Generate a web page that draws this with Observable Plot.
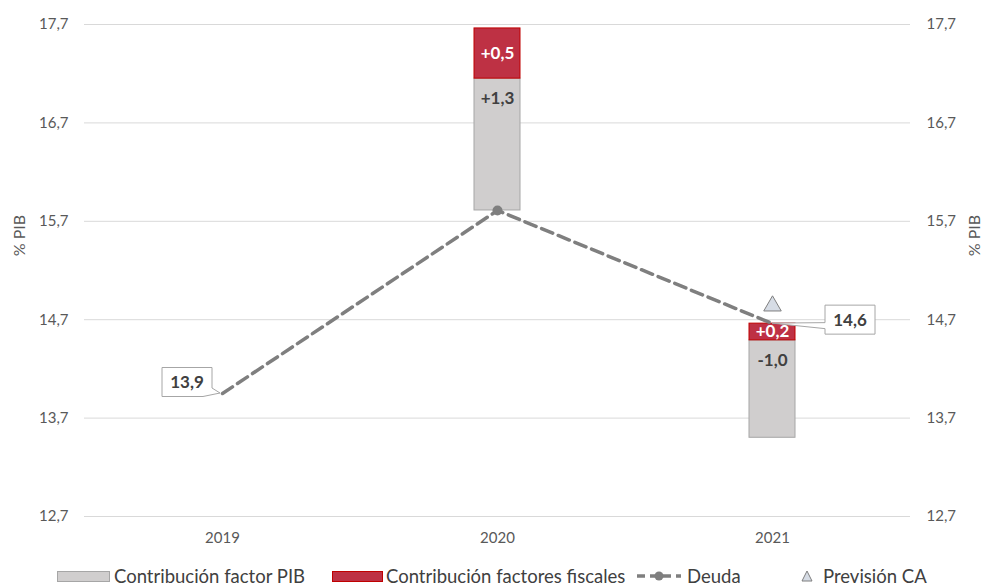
<!DOCTYPE html>
<html>
<head>
<meta charset="utf-8">
<script src="https://cdn.jsdelivr.net/npm/d3@7"></script>
<script src="https://cdn.jsdelivr.net/npm/@observablehq/plot@0.6"></script>
<style>
  html, body { margin: 0; padding: 0; background: #fff; }
  #chart { width: 984px; }
  .legend { position: relative; height: 31px; font-family: Lato, "Open Sans", sans-serif; font-size: 18.5px; color: #404040; }
  .legend .item { position: absolute; top: 9px; display: flex; align-items: center; height: 22px; white-space: nowrap; }
  .legend svg { display: block; }
</style>
</head>
<body>
<div id="chart"></div>
<script>
// ---- data ----
const years = ["2019", "2020", "2021"];
const debt = [13.95, 15.81, 14.66];           // Deuda (% PIB)
const debtLabels = ["13,9", "", "14,6"];
const barBase = [null, 15.81, 13.50];         // bottom of stacked contribution bar
const pibContrib = [null, 1.34, 0.99];        // Contribución factor PIB (bar height)
const fiscalContrib = [null, 0.51, 0.17];     // Contribución factores fiscales (bar height)
const pibLabels = ["", "+1,3", "-1,0"];
const fiscalLabels = ["", "+0,5", "+0,2"];
const markerYears = ["2020"];
const forecastYears = ["2021"];
const forecastValues = [14.84];               // Previsión CA
const yTicks = [12.7, 13.7, 14.7, 15.7, 16.7, 17.7];
const axisTitle = "% PIB";
const legendLabels = ["Contribución factor PIB", "Contribución factores fiscales", "Deuda", "Previsión CA"];

// ---- tables built from the arrays ----
const rows = years.map((year, i) => ({
  year, debt: debt[i], debtLabel: debtLabels[i],
  base: barBase[i], pib: pibContrib[i], fiscal: fiscalContrib[i],
  pibLabel: pibLabels[i], fiscalLabel: fiscalLabels[i]
}));
const barRows = rows.filter(d => d.base != null);
const forecast = forecastYears.map((year, i) => ({year, value: forecastValues[i]}));

const GRAY = "#d0cece", GRAY_STROKE = "#a6a6a6";
const RED = "#be3144", RED_STROKE = "#c00000";
const LINE = "#7f7f7f";
const fmt = d => d.toFixed(1).replace(".", ",");

// callout styling (offsets of the label box relative to its point, px)
const calloutStyle = {
  "2019": {dx: -35, dy: -11, side: "bottomright"},
  "2021": {dx: 78, dy: -3.5, side: "left"}
};

function callouts(index, scales) {
  const g = d3.create("svg:g");
  const bw = scales.x.bandwidth ? scales.x.bandwidth() : 0;
  const w = 50, h = 29;
  rows.filter(d => d.debtLabel).forEach(d => {
    const s = calloutStyle[d.year];
    const px = scales.x(d.year) + bw / 2, py = scales.y(d.debt);
    const cx = px + s.dx, cy = py + s.dy;
    const l = cx - w / 2, r = cx + w / 2, t = cy - h / 2, b = cy + h / 2;
    let path;
    if (s.side === "left") {
      path = `M${l},${t}H${r}V${b}H${l}V${cy + 9}L${px},${py}L${l},${cy + 3}Z`;
    } else {
      path = `M${l},${t}H${r}V${cy + 6}L${px - 2},${py}L${r - 9},${b}H${l}Z`;
    }
    g.append("path").attr("d", path).attr("fill", "#fff").attr("stroke", GRAY_STROKE).attr("stroke-width", 1);
    g.append("text").attr("x", cx).attr("y", cy).attr("dy", "0.35em")
      .attr("text-anchor", "middle").attr("fill", "#404040")
      .attr("font-family", "Lato, sans-serif").attr("font-weight", "bold").attr("font-size", 17)
      .text(d.debtLabel);
  });
  return g.node();
}

const axisCommon = {ticks: yTicks, tickSize: 0, tickPadding: 16, tickFormat: fmt, label: null, fontSize: 15};

const chart = Plot.plot({
  width: 984,
  height: 556,
  marginTop: 24,
  marginBottom: 40,
  marginLeft: 84,
  marginRight: 74,
  style: {fontFamily: "Lato, 'Open Sans', sans-serif", fontSize: "15px", color: "#595959", background: "#fff"},
  x: {domain: years, paddingInner: 0.833, paddingOuter: 0.418, align: 0.5, label: null},
  y: {domain: [12.7, 17.7]},
  marks: [
    Plot.ruleY(yTicks, {stroke: "#d9d9d9", strokeWidth: 1}),
    Plot.axisY({...axisCommon, anchor: "left"}),
    Plot.axisY({...axisCommon, anchor: "right"}),
    Plot.axisX({tickSize: 0, tickPadding: 16, fontSize: 15, label: null}),
    Plot.text([axisTitle], {text: d => d, frameAnchor: "left", textAnchor: "middle", rotate: -90, dx: -64.5, dy: -35, fontSize: 16, fill: "#595959"}),
    Plot.text([axisTitle], {text: d => d, frameAnchor: "right", textAnchor: "middle", rotate: -90, dx: 64, dy: -35, fontSize: 16, fill: "#595959"}),
    Plot.barY(barRows, {x: "year", y1: "base", y2: d => d.base + d.pib, fill: GRAY, stroke: GRAY_STROKE, strokeWidth: 1}),
    Plot.barY(barRows, {x: "year", y1: d => d.base + d.pib, y2: d => d.base + d.pib + d.fiscal, fill: RED, stroke: RED_STROKE, strokeWidth: 1}),
    Plot.text(barRows, {x: "year", y: d => d.base + d.pib, text: "pibLabel", dy: 20, fill: "#404040", fontWeight: "bold", fontSize: 17}),
    Plot.text(barRows, {x: "year", y: d => d.base + d.pib + d.fiscal / 2, text: "fiscalLabel", fill: "#fff", fontWeight: "bold", fontSize: 17}),
    Plot.line(rows, {x: "year", y: "debt", stroke: LINE, strokeWidth: 3.5, strokeDasharray: "12,6"}),
    Plot.dot(rows.filter(d => markerYears.includes(d.year)), {x: "year", y: "debt", r: 5, fill: LINE}),
    Plot.dot(forecast, {x: "year", y: "value", symbol: "triangle", r: 6.5, fill: "#d6dce5", stroke: LINE, strokeWidth: 1}),
    callouts
  ]
});
document.getElementById("chart").append(chart);

// ---- legend ----
const legend = document.createElement("div");
legend.className = "legend";
const swatches = [
  `<svg width="53" height="11"><rect x="0.5" y="0.5" width="52" height="10" fill="${GRAY}" stroke="${GRAY_STROKE}"/></svg>`,
  `<svg width="51" height="11"><rect x="0.5" y="0.5" width="50" height="10" fill="${RED}" stroke="${RED_STROKE}"/></svg>`,
  `<svg width="46" height="12"><line x1="1" y1="6" x2="45" y2="6" stroke="${LINE}" stroke-width="3.5" stroke-dasharray="8,5"/><circle cx="23" cy="6" r="4.5" fill="${LINE}"/></svg>`,
  `<svg width="12" height="12"><path d="M6,1L11,11H1Z" fill="#d6dce5" stroke="${LINE}"/></svg>`
];
const itemLeft = [57, 332, 636, 801];
const textGap = [4, 3, 5, 10];
legendLabels.forEach((label, i) => {
  const item = document.createElement("div");
  item.className = "item";
  item.style.left = itemLeft[i] + "px";
  item.innerHTML = swatches[i] + `<span style="margin-left:${textGap[i]}px">${label}</span>`;
  legend.append(item);
});
document.getElementById("chart").append(legend);
</script>
</body>
</html>
